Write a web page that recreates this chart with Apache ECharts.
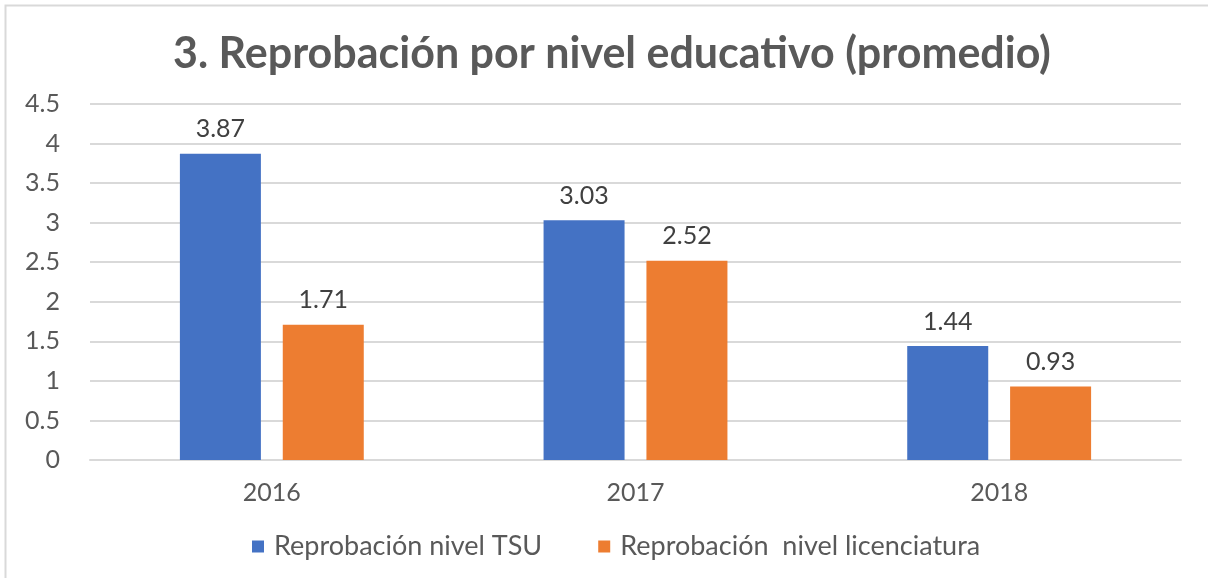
<!DOCTYPE html>
<html>
<head>
<meta charset="utf-8">
<script src="https://cdn.jsdelivr.net/npm/echarts@6/dist/echarts.min.js"></script>
<style>
html, body { margin: 0; padding: 0; background: #fff; }
#main { width: 1208px; height: 578px; }
</style>
</head>
<body>
<div id="main"></div>
<script>
var years = ['2016', '2017', '2018'];
var tsu = [3.87, 3.03, 1.44];
var licenciatura = [1.71, 2.52, 0.93];
var seriesNames = ['Reprobación nivel TSU', 'Reprobación  nivel licenciatura'];
var colors = ['#4472C4', '#ED7D31'];

var FONT = 'Lato';
var myChart = echarts.init(document.getElementById('main'));

var option = {
	animation: false,
	color: colors,
	textStyle: { fontFamily: FONT },
	graphic: [{
		type: 'rect',
		shape: { x: 5.5, y: 5.5, width: 1220, height: 600 },
		style: { fill: 'none', stroke: '#d9d9d9', lineWidth: 2 },
		silent: true
	}],
	title: {
		text: '3. Reprobación por nivel educativo (promedio)',
		left: 168,
		top: 28,
		textStyle: { fontFamily: FONT, fontSize: 43, fontWeight: 'bold', color: '#595959' }
	},
	legend: {
		data: seriesNames,
		top: 528,
		left: 247,
		itemWidth: 12,
		itemHeight: 12,
		itemGap: 56,
		icon: 'rect',
		textStyle: { fontFamily: FONT, fontSize: 27, color: '#595959', padding: [0, 0, 0, 5] }
	},
	grid: {
		left: 90,
		right: 27,
		top: 104,
		bottom: 118
	},
	xAxis: {
		type: 'category',
		data: years,
		axisTick: { show: false },
		axisLine: { lineStyle: { color: '#d9d9d9', width: 2 } },
		axisLabel: { fontFamily: FONT, fontSize: 25, color: '#595959', margin: 20 }
	},
	yAxis: {
		type: 'value',
		min: 0,
		max: 4.5,
		interval: 0.5,
		axisLine: { show: false },
		axisTick: { show: false },
		splitLine: { lineStyle: { color: '#d9d9d9', width: 2 } },
		axisLabel: { fontFamily: FONT, fontSize: 25, color: '#595959', margin: 30 }
	},
	series: []
};

var seriesData = [tsu, licenciatura];
for (var i = 0; i < seriesData.length; i++) {
	option.series.push({
		name: seriesNames[i],
		type: 'bar',
		data: seriesData[i],
		barWidth: 81,
		barGap: '27%',
		label: {
			show: true,
			position: 'top',
			distance: 12,
			fontFamily: FONT,
			fontSize: 25,
			color: '#404040'
		}
	});
}

myChart.setOption(option);
</script>
</body>
</html>
